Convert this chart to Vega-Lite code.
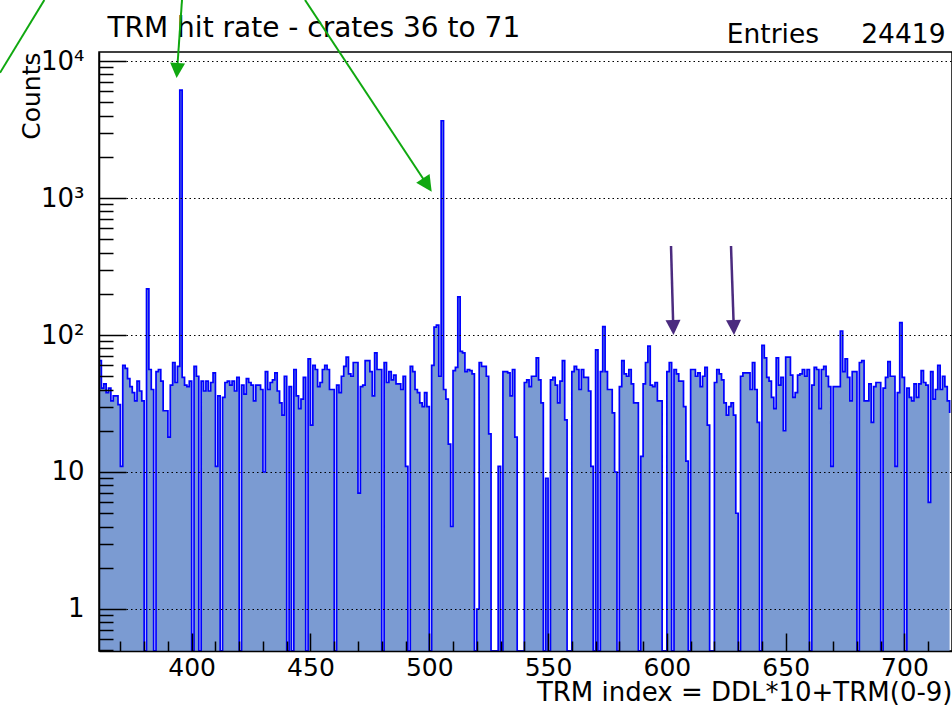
{
 "$schema": "https://vega.github.io/schema/vega-lite/v6.json",
 "width": 853,
 "height": 599,
 "autosize": {"type": "none"},
 "padding": {"left": 99, "top": 52, "right": 0, "bottom": 54},
 "background": "white",
 "config": {
  "font": "DejaVu Sans",
  "view": {"stroke": "#000000", "strokeWidth": 1.5},
  "axis": {"labelFont": "DejaVu Sans", "titleFont": "DejaVu Sans", "labelColor": "#000000", "titleColor": "#000000", "titleFontWeight": "normal"}
 },
 "layer": [
  {
   "data": {"values": [
{"trm":361,"counts":65},{"trm":362,"counts":41},{"trm":363,"counts":44},{"trm":364,"counts":38},{"trm":365,"counts":41},{"trm":366,"counts":33},{"trm":367,"counts":36},{"trm":368,"counts":36},{"trm":369,"counts":31},{"trm":370,"counts":11},
{"trm":371,"counts":60},{"trm":372,"counts":57},{"trm":373,"counts":48},{"trm":374,"counts":42},{"trm":375,"counts":38},{"trm":376,"counts":33},{"trm":377,"counts":46},{"trm":378,"counts":39},{"trm":379,"counts":33},{"trm":380,"counts":0},
{"trm":381,"counts":217},{"trm":382,"counts":56},{"trm":383,"counts":40},{"trm":384,"counts":0},{"trm":385,"counts":54},{"trm":386,"counts":56},{"trm":387,"counts":46},{"trm":388,"counts":28},{"trm":389,"counts":28},{"trm":390,"counts":18},
{"trm":391,"counts":43},{"trm":392,"counts":63},{"trm":393,"counts":45},{"trm":394,"counts":59},{"trm":395,"counts":6140},{"trm":396,"counts":49},{"trm":397,"counts":43},{"trm":398,"counts":42},{"trm":399,"counts":46},{"trm":400,"counts":0},
{"trm":401,"counts":59},{"trm":402,"counts":50},{"trm":403,"counts":0},{"trm":404,"counts":46},{"trm":405,"counts":39},{"trm":406,"counts":46},{"trm":407,"counts":39},{"trm":408,"counts":45},{"trm":409,"counts":53},{"trm":410,"counts":11},
{"trm":411,"counts":36},{"trm":412,"counts":0},{"trm":413,"counts":35},{"trm":414,"counts":45},{"trm":415,"counts":46},{"trm":416,"counts":43},{"trm":417,"counts":46},{"trm":418,"counts":39},{"trm":419,"counts":49},{"trm":420,"counts":0},
{"trm":421,"counts":43},{"trm":422,"counts":37},{"trm":423,"counts":48},{"trm":424,"counts":45},{"trm":425,"counts":43},{"trm":426,"counts":33},{"trm":427,"counts":43},{"trm":428,"counts":43},{"trm":429,"counts":40},{"trm":430,"counts":10},
{"trm":431,"counts":54},{"trm":432,"counts":40},{"trm":433,"counts":45},{"trm":434,"counts":47},{"trm":435,"counts":53},{"trm":436,"counts":39},{"trm":437,"counts":32},{"trm":438,"counts":26},{"trm":439,"counts":50},{"trm":440,"counts":0},
{"trm":441,"counts":42},{"trm":442,"counts":0},{"trm":443,"counts":56},{"trm":444,"counts":36},{"trm":445,"counts":29},{"trm":446,"counts":34},{"trm":447,"counts":49},{"trm":448,"counts":0},{"trm":449,"counts":67},{"trm":450,"counts":22},
{"trm":451,"counts":60},{"trm":452,"counts":56},{"trm":453,"counts":42},{"trm":454,"counts":45},{"trm":455,"counts":56},{"trm":456,"counts":60},{"trm":457,"counts":56},{"trm":458,"counts":40},{"trm":459,"counts":40},{"trm":460,"counts":0},
{"trm":461,"counts":43},{"trm":462,"counts":38},{"trm":463,"counts":50},{"trm":464,"counts":59},{"trm":465,"counts":69},{"trm":466,"counts":52},{"trm":467,"counts":50},{"trm":468,"counts":63},{"trm":469,"counts":63},{"trm":470,"counts":7},
{"trm":471,"counts":42},{"trm":472,"counts":43},{"trm":473,"counts":65},{"trm":474,"counts":65},{"trm":475,"counts":54},{"trm":476,"counts":36},{"trm":477,"counts":74},{"trm":478,"counts":56},{"trm":479,"counts":56},{"trm":480,"counts":0},
{"trm":481,"counts":63},{"trm":482,"counts":45},{"trm":483,"counts":54},{"trm":484,"counts":47},{"trm":485,"counts":51},{"trm":486,"counts":44},{"trm":487,"counts":44},{"trm":488,"counts":40},{"trm":489,"counts":50},{"trm":490,"counts":11},
{"trm":491,"counts":0},{"trm":492,"counts":59},{"trm":493,"counts":54},{"trm":494,"counts":40},{"trm":495,"counts":38},{"trm":496,"counts":32},{"trm":497,"counts":30},{"trm":498,"counts":38},{"trm":499,"counts":30},{"trm":500,"counts":0},
{"trm":501,"counts":60},{"trm":502,"counts":114},{"trm":503,"counts":118},{"trm":504,"counts":50},{"trm":505,"counts":3665},{"trm":506,"counts":40},{"trm":507,"counts":34},{"trm":508,"counts":16},{"trm":509,"counts":4},{"trm":510,"counts":55},
{"trm":511,"counts":58},{"trm":512,"counts":190},{"trm":513,"counts":76},{"trm":514,"counts":74},{"trm":515,"counts":54},{"trm":516,"counts":56},{"trm":517,"counts":55},{"trm":518,"counts":52},{"trm":519,"counts":0},{"trm":520,"counts":1},
{"trm":521,"counts":63},{"trm":522,"counts":59},{"trm":523,"counts":59},{"trm":524,"counts":50},{"trm":525,"counts":19},{"trm":526,"counts":0},{"trm":527,"counts":0},{"trm":528,"counts":0},{"trm":529,"counts":11},{"trm":530,"counts":0},
{"trm":531,"counts":54},{"trm":532,"counts":54},{"trm":533,"counts":53},{"trm":534,"counts":36},{"trm":535,"counts":56},{"trm":536,"counts":18},{"trm":537,"counts":0},{"trm":538,"counts":0},{"trm":539,"counts":0},{"trm":540,"counts":45},
{"trm":541,"counts":47},{"trm":542,"counts":42},{"trm":543,"counts":50},{"trm":544,"counts":50},{"trm":545,"counts":68},{"trm":546,"counts":47},{"trm":547,"counts":32},{"trm":548,"counts":0},{"trm":549,"counts":9},{"trm":550,"counts":0},
{"trm":551,"counts":47},{"trm":552,"counts":49},{"trm":553,"counts":43},{"trm":554,"counts":32},{"trm":555,"counts":46},{"trm":556,"counts":65},{"trm":557,"counts":24},{"trm":558,"counts":0},{"trm":559,"counts":0},{"trm":560,"counts":54},
{"trm":561,"counts":59},{"trm":562,"counts":56},{"trm":563,"counts":40},{"trm":564,"counts":56},{"trm":565,"counts":49},{"trm":566,"counts":49},{"trm":567,"counts":39},{"trm":568,"counts":11},{"trm":569,"counts":0},{"trm":570,"counts":78},
{"trm":571,"counts":0},{"trm":572,"counts":54},{"trm":573,"counts":115},{"trm":574,"counts":54},{"trm":575,"counts":40},{"trm":576,"counts":40},{"trm":577,"counts":27},{"trm":578,"counts":10},{"trm":579,"counts":0},{"trm":580,"counts":42},
{"trm":581,"counts":65},{"trm":582,"counts":52},{"trm":583,"counts":50},{"trm":584,"counts":56},{"trm":585,"counts":44},{"trm":586,"counts":32},{"trm":587,"counts":32},{"trm":588,"counts":0},{"trm":589,"counts":13},{"trm":590,"counts":44},
{"trm":591,"counts":63},{"trm":592,"counts":83},{"trm":593,"counts":43},{"trm":594,"counts":42},{"trm":595,"counts":45},{"trm":596,"counts":33},{"trm":597,"counts":33},{"trm":598,"counts":0},{"trm":599,"counts":0},{"trm":600,"counts":54},
{"trm":601,"counts":63},{"trm":602,"counts":0},{"trm":603,"counts":56},{"trm":604,"counts":52},{"trm":605,"counts":46},{"trm":606,"counts":46},{"trm":607,"counts":30},{"trm":608,"counts":12},{"trm":609,"counts":0},{"trm":610,"counts":56},
{"trm":611,"counts":56},{"trm":612,"counts":50},{"trm":613,"counts":53},{"trm":614,"counts":42},{"trm":615,"counts":50},{"trm":616,"counts":58},{"trm":617,"counts":22},{"trm":618,"counts":0},{"trm":619,"counts":0},{"trm":620,"counts":45},
{"trm":621,"counts":56},{"trm":622,"counts":52},{"trm":623,"counts":47},{"trm":624,"counts":32},{"trm":625,"counts":26},{"trm":626,"counts":30},{"trm":627,"counts":32},{"trm":628,"counts":26},{"trm":629,"counts":5},{"trm":630,"counts":0},
{"trm":631,"counts":50},{"trm":632,"counts":53},{"trm":633,"counts":53},{"trm":634,"counts":53},{"trm":635,"counts":40},{"trm":636,"counts":63},{"trm":637,"counts":40},{"trm":638,"counts":23},{"trm":639,"counts":0},{"trm":640,"counts":84},
{"trm":641,"counts":68},{"trm":642,"counts":49},{"trm":643,"counts":46},{"trm":644,"counts":35},{"trm":645,"counts":29},{"trm":646,"counts":68},{"trm":647,"counts":43},{"trm":648,"counts":49},{"trm":649,"counts":20},{"trm":650,"counts":69},
{"trm":651,"counts":69},{"trm":652,"counts":51},{"trm":653,"counts":35},{"trm":654,"counts":38},{"trm":655,"counts":51},{"trm":656,"counts":52},{"trm":657,"counts":56},{"trm":658,"counts":50},{"trm":659,"counts":56},{"trm":660,"counts":0},
{"trm":661,"counts":43},{"trm":662,"counts":58},{"trm":663,"counts":56},{"trm":664,"counts":29},{"trm":665,"counts":56},{"trm":666,"counts":59},{"trm":667,"counts":50},{"trm":668,"counts":42},{"trm":669,"counts":11},{"trm":670,"counts":42},
{"trm":671,"counts":42},{"trm":672,"counts":42},{"trm":673,"counts":107},{"trm":674,"counts":54},{"trm":675,"counts":67},{"trm":676,"counts":49},{"trm":677,"counts":33},{"trm":678,"counts":54},{"trm":679,"counts":54},{"trm":680,"counts":0},
{"trm":681,"counts":63},{"trm":682,"counts":65},{"trm":683,"counts":33},{"trm":684,"counts":33},{"trm":685,"counts":44},{"trm":686,"counts":23},{"trm":687,"counts":42},{"trm":688,"counts":45},{"trm":689,"counts":45},{"trm":690,"counts":0},
{"trm":691,"counts":41},{"trm":692,"counts":49},{"trm":693,"counts":64},{"trm":694,"counts":50},{"trm":695,"counts":50},{"trm":696,"counts":11},{"trm":697,"counts":38},{"trm":698,"counts":123},{"trm":699,"counts":49},{"trm":700,"counts":0},
{"trm":701,"counts":41},{"trm":702,"counts":35},{"trm":703,"counts":33},{"trm":704,"counts":44},{"trm":705,"counts":35},{"trm":706,"counts":44},{"trm":707,"counts":55},{"trm":708,"counts":45},{"trm":709,"counts":43},{"trm":710,"counts":6},
{"trm":711,"counts":54},{"trm":712,"counts":34},{"trm":713,"counts":40},{"trm":714,"counts":60},{"trm":715,"counts":40},{"trm":716,"counts":50},{"trm":717,"counts":42},{"trm":718,"counts":33},{"trm":719,"counts":27}
   ]},
   "encoding": {
    "x": {"field": "trm", "type": "quantitative", "scale": {"domain": [361, 720], "nice": false, "zero": false},
     "axis": {
      "values": [370,380,390,400,410,420,430,440,450,460,470,480,490,500,510,520,530,540,550,560,570,580,590,600,610,620,630,640,650,660,670,680,690,700,710],
      "labelExpr": "datum.value % 50 == 0 ? datum.label : ''",
      "labelFontSize": 25, "labelPadding": 22, "labelBaseline": "top",
      "labelOverlap": false, "labelFlush": false, "labelBound": false,
      "tickSize": {"condition": {"test": "datum.value % 50 == 0", "value": -18}, "value": -10},
      "tickColor": "#000000", "tickWidth": 1.5,
      "grid": false, "domainColor": "#000000", "domainWidth": 1.5,
      "title": "TRM index = DDL*10+TRM(0-9)", "titleFontSize": 26, "titleX": 853, "titleY": 49, "titleAlign": "right", "titleBaseline": "alphabetic",
      "zindex": 1
     }},
    "y": {"field": "counts", "type": "quantitative", "stack": null, "scale": {"type": "log", "domain": [0.4936, 11635], "nice": false, "clamp": true},
     "axis": {
      "values": [0.5,0.6,0.7,0.8,0.9,1,2,3,4,5,6,7,8,9,10,20,30,40,50,60,70,80,90,100,200,300,400,500,600,700,800,900,1000,2000,3000,4000,5000,6000,7000,8000,9000,10000],
      "labelExpr": "datum.value == 10000 ? '10⁴' : datum.value == 1000 ? '10³' : datum.value == 100 ? '10²' : datum.value == 10 ? '10' : datum.value == 1 ? '1' : ''",
      "labelFontSize": 26, "labelPadding": 42, "labelBaseline": "middle", "labelAlign": "right",
      "labelOverlap": false, "labelFlush": false, "labelBound": false,
      "tickSize": {"condition": {"test": "indexof([1,10,100,1000,10000], datum.value) >= 0", "value": -27}, "value": -14},
      "tickColor": "#000000", "tickWidth": 1.5,
      "grid": true, "gridColor": "#000000", "gridDash": [1.5, 3], "gridWidth": 1.2,
      "gridOpacity": {"condition": {"test": "indexof([1,10,100,1000,10000], datum.value) >= 0", "value": 1}, "value": 0},
      "domainColor": "#000000", "domainWidth": 1.5,
      "title": "Counts", "titleFontSize": 25, "titleX": -60, "titleY": 0, "titleAlign": "right", "titleBaseline": "alphabetic", "titleAngle": 270,
      "zindex": 1
     }}
   },
   "layer": [
    {"mark": {"type": "area", "interpolate": "step-after", "color": "#7b9bd2", "opacity": 1}, "encoding": {"y2": {"datum": 0.4936}}},
    {"mark": {"type": "line", "interpolate": "step-after", "color": "#0000ff", "strokeWidth": 1.7}}
   ]
  },
  {
   "data": {"values": [
    {"x": 319.33, "y": 8200, "x2": 338.0, "y2": 27886},
    {"x": 395.93, "y": 27886, "x2": 393.87, "y2": 8528},
    {"x": 447.70, "y": 27886, "x2": 499.17, "y2": 1244.5}
   ]},
   "mark": {"type": "rule", "color": "#10a810", "strokeWidth": 2},
   "encoding": {
    "x": {"field": "x", "type": "quantitative", "scale": {"domain": [361, 720], "nice": false, "zero": false}, "axis": null},
    "x2": {"field": "x2"},
    "y": {"field": "y", "type": "quantitative", "scale": {"type": "log", "domain": [0.4936, 11635], "nice": false},
     "axis": {"orient": "right", "labels": false, "ticks": false, "domain": false, "grid": false,
      "title": "TRM hit rate - crates 36 to 71", "titleFontSize": 28, "titleAngle": 0, "titleX": -845, "titleY": -16, "titleAlign": "left", "titleBaseline": "alphabetic"}},
    "y2": {"field": "y2"}
   }
  },
  {
   "data": {"values": [{"x": 393.87, "y": 8528}]},
   "mark": {"type": "point", "shape": "M-1,-1L1,-1L0,1Z", "filled": true, "color": "#10a810", "opacity": 1, "size": 225, "angle": 3.7},
   "encoding": {
    "x": {"field": "x", "type": "quantitative", "scale": {"domain": [361, 720], "nice": false, "zero": false}, "axis": null},
    "y": {"field": "y", "type": "quantitative", "scale": {"type": "log", "domain": [0.4936, 11635], "nice": false}, "axis": null}
   }
  },
  {
   "data": {"values": [{"x": 499.17, "y": 1244.5}]},
   "mark": {"type": "point", "shape": "M-1,-1L1,-1L0,1Z", "filled": true, "color": "#10a810", "opacity": 1, "size": 256, "angle": -33.4},
   "encoding": {
    "x": {"field": "x", "type": "quantitative", "scale": {"domain": [361, 720], "nice": false, "zero": false}, "axis": null},
    "y": {"field": "y", "type": "quantitative", "scale": {"type": "log", "domain": [0.4936, 11635], "nice": false}, "axis": null}
   }
  },
  {
   "data": {"values": [
    {"x": 601.74, "y": 446.2, "x2": 602.69, "y2": 113.4},
    {"x": 626.99, "y": 446.2, "x2": 628.15, "y2": 113.4}
   ]},
   "mark": {"type": "rule", "color": "#4b2b7f", "strokeWidth": 2.5},
   "encoding": {
    "x": {"field": "x", "type": "quantitative", "scale": {"domain": [361, 720], "nice": false, "zero": false},
     "axis": {"orient": "top", "labels": false, "ticks": false, "domain": false, "grid": false,
      "title": "Entries\u00a0\u00a0\u00a0\u00a0\u00a024419", "titleFontSize": 26.5, "titleX": 846, "titleY": -10, "titleAlign": "right", "titleBaseline": "alphabetic"}},
    "x2": {"field": "x2"},
    "y": {"field": "y", "type": "quantitative", "scale": {"type": "log", "domain": [0.4936, 11635], "nice": false}, "axis": null},
    "y2": {"field": "y2"}
   }
  },
  {
   "data": {"values": [{"x": 602.69, "y": 113.4}, {"x": 628.15, "y": 113.4}]},
   "mark": {"type": "point", "shape": "M-1,-1L1,-1L0,1Z", "filled": true, "color": "#4b2b7f", "opacity": 1, "size": 225, "angle": -1.9},
   "encoding": {
    "x": {"field": "x", "type": "quantitative", "scale": {"domain": [361, 720], "nice": false, "zero": false}, "axis": null},
    "y": {"field": "y", "type": "quantitative", "scale": {"type": "log", "domain": [0.4936, 11635], "nice": false}, "axis": null}
   }
  }
 ],
 "resolve": {"scale": {"y": "independent"}, "axis": {"x": "independent", "y": "independent"}}
}
